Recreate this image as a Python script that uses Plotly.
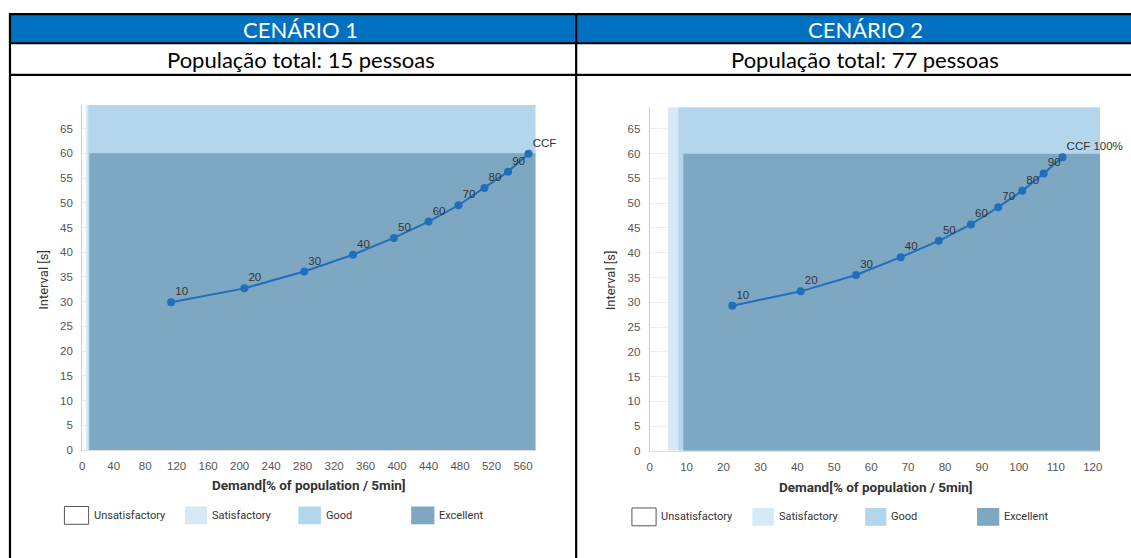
import plotly.graph_objects as go

# ---------------- data ----------------
scenario_titles = ["CENÁRIO 1", "CENÁRIO 2"]
population_texts = ["População total: 15 pessoas", "População total: 77 pessoas"]

demand1 = [113, 206, 282, 344, 396, 440, 478, 511, 541, 567]
interval1 = [29.9, 32.7, 36.1, 39.5, 42.9, 46.2, 49.5, 53.0, 56.3, 59.9]
labels1 = ["10", "20", "30", "40", "50", "60", "70", "80", "90", "CCF"]

demand2 = [22.4, 40.9, 55.9, 68.0, 78.3, 87.0, 94.4, 100.9, 106.7, 111.8]
interval2 = [29.3, 32.2, 35.5, 39.1, 42.4, 45.7, 49.2, 52.5, 56.0, 59.3]
labels2 = ["10", "20", "30", "40", "50", "60", "70", "80", "90", "CCF 100%"]

# quality zones (demand % thresholds, interval threshold)
satisfactory_from = 5.0
good_from = 7.8
excellent_from = 9.1
excellent_max_interval = 60

legend_names = ["Unsatisfactory", "Satisfactory", "Good", "Excellent"]
zone_colors = ["#ffffff", "#d6e9f6", "#b4d6ed", "#7ea7c2"]

x1_range = [0, 576]
x2_range = [0, 122]
y1_range = [0, 69.8]
y2_range = [0, 69.4]
x1_ticks = list(range(0, 561, 40))
x2_ticks = list(range(0, 121, 10))
y_ticks = list(range(0, 66, 5))

W, H = 1131, 558
def px(x):
    return x / W
def py(y):
    return 1 - y / H

line_color = "#1f6fbd"
tick_font = dict(family="Liberation Sans, Arial, sans-serif", size=11.5, color="#555")
narrow = "Roboto, Liberation Sans, sans-serif"
head_font = "Lato, Open Sans, sans-serif"
label_font = dict(family="Liberation Sans, Arial", size=11.5, color="#333")

fig = go.Figure()

for xs, ys, labs, xa, ya in [(demand1, interval1, labels1, "x", "y"),
                             (demand2, interval2, labels2, "x2", "y2")]:
    fig.add_trace(go.Scatter(
        x=xs, y=ys, mode="lines+markers",
        line=dict(color=line_color, width=2), marker=dict(color=line_color, size=8),
        xaxis=xa, yaxis=ya, showlegend=False, cliponaxis=False, hoverinfo="x+y"))
    fig.add_trace(go.Scatter(
        x=xs, y=ys, text=labs, mode="markers+text", textposition="top right", textfont=label_font,
        marker=dict(size=5, color="rgba(0,0,0,0)"),
        xaxis=xa, yaxis=ya, showlegend=False, cliponaxis=False, hoverinfo="skip"))

shapes = []

def zone_shapes(xref, yref, xrng, yrng):
    out = []
    out.append(dict(type="rect", xref=xref, yref=yref, x0=satisfactory_from, x1=xrng[1],
                    y0=yrng[0], y1=yrng[1], fillcolor=zone_colors[1], line=dict(width=0), layer="between"))
    out.append(dict(type="rect", xref=xref, yref=yref, x0=good_from, x1=xrng[1],
                    y0=yrng[0], y1=yrng[1], fillcolor=zone_colors[2], line=dict(width=0), layer="between"))
    out.append(dict(type="rect", xref=xref, yref=yref, x0=excellent_from, x1=xrng[1],
                    y0=yrng[0], y1=excellent_max_interval, fillcolor=zone_colors[3],
                    line=dict(width=0), layer="between"))
    return out

shapes += zone_shapes("x", "y", x1_range, y1_range)
shapes += zone_shapes("x2", "y2", x2_range, y2_range)

# table: header fills and lines
shapes.append(dict(type="rect", xref="paper", yref="paper", x0=px(7), x1=px(1140), y0=py(43.7), y1=py(14.3),
                   fillcolor="#0070c0", line=dict(width=0), layer="below"))
tbl_line = dict(color="#000", width=2.2)
for yy in [14.3, 43.7, 75.7]:
    shapes.append(dict(type="line", xref="paper", yref="paper", x0=px(6), x1=px(1140), y0=py(yy), y1=py(yy), line=tbl_line))
for xx in [7, 575.7]:
    shapes.append(dict(type="line", xref="paper", yref="paper", x0=px(xx), x1=px(xx), y0=py(13.3), y1=py(570), line=tbl_line))

annotations = []
for i, cx in enumerate([299, 866]):
    annotations.append(dict(text=scenario_titles[i], x=px(cx), y=py(29.5), xref="paper", yref="paper",
                            showarrow=False, xanchor="center", yanchor="middle",
                            font=dict(family=head_font, size=22, color="#ffffff")))
    annotations.append(dict(text=population_texts[i], x=px(cx), y=py(60), xref="paper", yref="paper",
                            showarrow=False, xanchor="center", yanchor="middle",
                            font=dict(family=head_font, size=22, color="#000000")))

# axis titles
for cx, cy in [(41, 283), (611, 283)]:
    annotations.append(dict(text="Interval [s]", x=px(cx), y=py(cy), xref="paper", yref="paper",
                            showarrow=False, textangle=-90, xanchor="center", yanchor="middle",
                            font=dict(family=narrow, size=13, color="#333")))
for cx, cy in [(307, 490), (877, 492)]:
    annotations.append(dict(text="<b>Demand[% of population / 5min]</b>", x=px(cx), y=py(cy), xref="paper", yref="paper",
                            showarrow=False, xanchor="center", yanchor="middle",
                            font=dict(family=narrow, size=13.5, color="#333")))

# legends
legend_boxes = [
    [(61.7, 86), (182.7, 205), (296.7, 319.3), (410, 433.3)],
    [(631.7, 656), (752.7, 774.3), (866, 887.3), (978.3, 1000.7)],
]
for row, ly in zip(legend_boxes, [521, 522.5]):
    for k, (bx0, bx1) in enumerate(row):
        shapes.append(dict(type="rect", xref="paper", yref="paper", x0=px(bx0), x1=px(bx1),
                           y0=py(ly + 9), y1=py(ly - 9), fillcolor=zone_colors[k],
                           line=dict(width=1 if k == 0 else 0, color="#555")))
        annotations.append(dict(text=legend_names[k], x=px(bx1 + 3), y=py(ly), xref="paper", yref="paper",
                                showarrow=False, xanchor="left", yanchor="middle",
                                font=dict(family=narrow, size=11, color="#333")))

axis_common = dict(zeroline=False, ticks="outside", tickcolor="rgba(0,0,0,0)",
                   tickfont=tick_font, fixedrange=True)

fig.update_layout(
    width=W, height=H, margin=dict(l=0, r=0, t=0, b=0),
    paper_bgcolor="#ffffff", plot_bgcolor="#ffffff",
    xaxis=dict(domain=[px(79.5), px(535)], range=x1_range, tickvals=x1_ticks, anchor="y",
               showline=True, linecolor="#dddddd", ticklen=5, showgrid=False, **axis_common),
    yaxis=dict(domain=[py(455), py(106)], range=y1_range, tickvals=y_ticks, anchor="x",
               showline=True, linecolor="#cccccc", ticklen=6, showgrid=True,
               gridcolor="#eeeeee", **axis_common),
    xaxis2=dict(domain=[px(649.5), px(1102)], range=x2_range, tickvals=x2_ticks, anchor="y2",
                showline=True, linecolor="#dddddd", ticklen=5, showgrid=False, **axis_common),
    yaxis2=dict(domain=[py(455.7), py(108.3)], range=y2_range, tickvals=y_ticks, anchor="x2",
                showline=True, linecolor="#cccccc", ticklen=6, showgrid=True,
                gridcolor="#eeeeee", **axis_common),
    shapes=shapes, annotations=annotations,
)

fig.write_html("out.html", config={"displayModeBar": False},
               post_script="document.body.style.margin='0';document.body.style.overflow='hidden';")
